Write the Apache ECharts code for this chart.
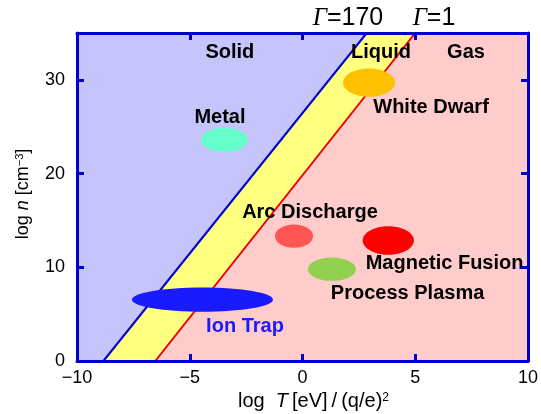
<!DOCTYPE html>
<html><head><meta charset="utf-8">
<script src="https://cdn.jsdelivr.net/npm/echarts@6/dist/echarts.min.js"></script>
<style>html,body{margin:0;padding:0;background:#fff}#c{width:541px;height:414px}</style>
</head><body><div id="c"></div>
<script>
// ---- data ----
const xTicks = [-10, -5, 0, 5, 10];
const yTicks = [0, 10, 20, 30];
const xRange = [-10, 10];
const yRange = [0, 35];
// phase boundary lines, endpoints [log T, log n]
const gamma170Line = [[-8.83, 0], [2.85, 35]];
const gamma1Line = [[-6.53, 0], [5.0, 35]];
// plasma regions (ellipses): T range and n range
const regionNames = ['White Dwarf', 'Metal', 'Arc Discharge', 'Magnetic Fusion', 'Process Plasma', 'Ion Trap'];
const regionT = [[1.8, 4.1], [-4.5, -2.42], [-1.22, 0.47], [2.67, 4.94], [0.24, 2.37], [-7.56, -1.31]];
const regionN = [[28.2, 31.2], [22.3, 24.9], [12.09, 14.56], [11.34, 14.38], [8.55, 11.05], [5.26, 7.83]];
// text annotations
const noteTexts = ['Solid', 'Liquid', 'Gas', 'Metal', 'White Dwarf', 'Arc Discharge', 'Magnetic Fusion', 'Process Plasma', 'Ion Trap'];
const noteT = [-3.22, 3.48, 7.25, -3.66, 5.70, 0.33, 6.30, 4.66, -2.55];
const noteN = [32.9, 32.9, 32.9, 26.0, 27.0, 15.85, 10.37, 7.19, 3.69];
const gammaLabels = ['170', '1'];

// ---- styles ----
const regionColors = ['#ffc000', '#66ffcc', '#ff5555', '#ff0000', '#92d050', '#1a1aff'];
const noteColors = ['#000', '#000', '#000', '#000', '#000', '#000', '#000', '#000', '#1a1aff'];
const phaseColors = ['#c5c5fb', '#ffff80', '#ffcccc'];
const frameColor = '#0000cc';
const FONT = '"Liberation Sans", Arial, sans-serif';

const solidPoly = [[xRange[0], yRange[0]], gamma170Line[0], gamma170Line[1], [xRange[0], yRange[1]]];
const liquidPoly = [gamma170Line[0], gamma1Line[0], gamma1Line[1], gamma170Line[1]];
const gasPoly = [gamma1Line[0], [xRange[1], yRange[0]], [xRange[1], yRange[1]], gamma1Line[1]];
const phasePolys = [solidPoly, liquidPoly, gasPoly];

const chart = echarts.init(document.getElementById('c'), null, {renderer: 'canvas'});

function axisCommon(extra) {
  return Object.assign({
    type: 'value', z: 10,
    axisLine: {show: true, onZero: false, lineStyle: {color: frameColor, width: 3}},
    splitLine: {show: false}
  }, extra);
}
const minusFmt = v => String(v).replace('-', '\u2212');

const option = {
  animation: false,
  grid: {left: 77, right: 13, top: 33, bottom: 53, containLabel: false, outerBoundsMode: 'none'},
  xAxis: [
    axisCommon({
      min: xRange[0], max: xRange[1], interval: 5, position: 'bottom',
      axisTick: {show: true, inside: true, length: 7, lineStyle: {color: frameColor, width: 3}, customValues: [-5, 0, 5]},
      axisLabel: {show: true, customValues: xTicks, formatter: minusFmt, color: '#000', fontSize: 18, fontFamily: FONT, margin: 8},
      name: 'log  {i|T}\u2009[eV]\u2009/\u2009(q/e){s|2}', nameLocation: 'middle', nameGap: 29,
      nameTextStyle: {color: '#000', fontSize: 20, fontFamily: FONT, padding: [0, 0, 0, 22],
        rich: {i: {fontStyle: 'italic', fontSize: 20, fontFamily: FONT, color: '#000'},
               s: {fontSize: 12, fontFamily: FONT, color: '#000', verticalAlign: 'top'}}}
    }),
    axisCommon({
      min: xRange[0], max: xRange[1], interval: 5, position: 'top',
      axisTick: {show: true, inside: true, length: 7, lineStyle: {color: frameColor, width: 3}, customValues: [-5, 0, 5]},
      axisLabel: {show: false}
    })
  ],
  yAxis: [
    axisCommon({
      min: yRange[0], max: yRange[1], interval: 10, position: 'left',
      axisTick: {show: true, inside: true, length: 7, lineStyle: {color: frameColor, width: 3}, customValues: [10, 20, 30]},
      axisLabel: {show: true, customValues: yTicks, color: '#000', fontSize: 18, fontFamily: FONT, margin: 12},
      name: 'log {i|n} [cm{s|\u22123}]', nameLocation: 'middle', nameGap: 45,
      nameTextStyle: {color: '#000', fontSize: 18, fontFamily: FONT, padding: [0, 0, 0, 6],
        rich: {i: {fontStyle: 'italic', fontSize: 18, fontFamily: FONT, color: '#000'},
               s: {fontSize: 11, fontFamily: FONT, color: '#000', verticalAlign: 'top'}}}
    }),
    axisCommon({
      min: yRange[0], max: yRange[1], interval: 10, position: 'right',
      axisTick: {show: true, inside: true, length: 7, lineStyle: {color: frameColor, width: 3}, customValues: [10, 20, 30]},
      axisLabel: {show: false}
    })
  ],
  graphic: [
    {type: 'text', x: 348, y: 18, z: 20, style: {text: '{g|\u0393}=' + gammaLabels[0], fill: '#000', font: '25px ' + FONT, align: 'center', verticalAlign: 'middle',
      rich: {g: {fontStyle: 'italic', fontFamily: '"Liberation Serif", serif', fontSize: 25, fill: '#000'}}}},
    {type: 'text', x: 434, y: 18, z: 20, style: {text: '{g|\u0393}=' + gammaLabels[1], fill: '#000', font: '25px ' + FONT, align: 'center', verticalAlign: 'middle',
      rich: {g: {fontStyle: 'italic', fontFamily: '"Liberation Serif", serif', fontSize: 25, fill: '#000'}}}}
  ],
  series: [
    {
      type: 'custom', z: 1, silent: true,
      data: phasePolys.map((p, i) => [i]),
      encode: {x: -1, y: -1},
      renderItem: function (params, api) {
        const i = params.dataIndex;
        return {type: 'polygon', shape: {points: phasePolys[i].map(pt => api.coord(pt))}, style: {fill: phaseColors[i]}};
      }
    },
    {type: 'line', z: 3, symbol: 'none', data: gamma170Line, lineStyle: {color: frameColor, width: 2}, silent: true},
    {type: 'line', z: 3, symbol: 'none', data: gamma1Line, lineStyle: {color: '#ee0000', width: 2}, silent: true},
    {
      type: 'custom', z: 4, silent: true,
      data: regionT.map((t, i) => [t[0], t[1], regionN[i][0], regionN[i][1]]),
      encode: {x: [0, 1], y: [2, 3]},
      renderItem: function (params, api) {
        const i = params.dataIndex;
        const p1 = api.coord([api.value(0), api.value(2)]);
        const p2 = api.coord([api.value(1), api.value(3)]);
        return {type: 'ellipse', shape: {cx: (p1[0] + p2[0]) / 2, cy: (p1[1] + p2[1]) / 2,
          rx: Math.abs(p2[0] - p1[0]) / 2, ry: Math.abs(p2[1] - p1[1]) / 2}, style: {fill: regionColors[i]}};
      }
    },
    {
      type: 'custom', z: 5, silent: true,
      data: noteTexts.map((t, i) => [noteT[i], noteN[i]]),
      encode: {x: 0, y: 1},
      renderItem: function (params, api) {
        const i = params.dataIndex;
        const p = api.coord([api.value(0), api.value(1)]);
        return {type: 'text', x: p[0], y: p[1], style: {text: noteTexts[i], fill: noteColors[i],
          font: 'bold 20px ' + FONT, align: 'center', verticalAlign: 'middle'}};
      }
    }
  ]
};
chart.setOption(option);
</script>
</body></html>
